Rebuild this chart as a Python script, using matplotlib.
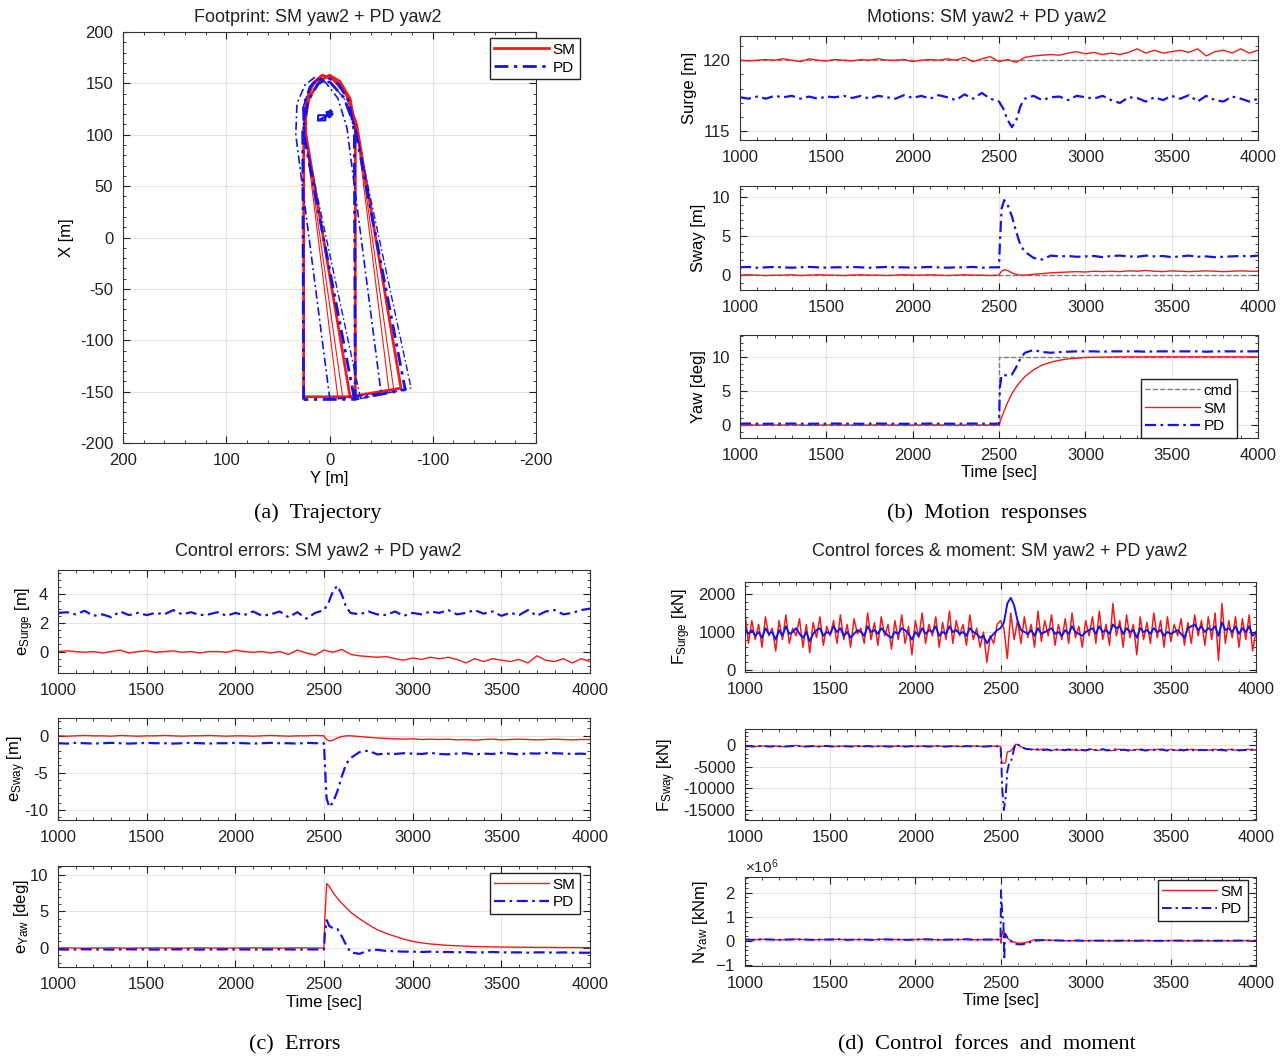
import numpy as np
import matplotlib.pyplot as plt
from matplotlib.transforms import Affine2D

plt.rcParams['font.family'] = ['Liberation Sans', 'DejaVu Sans']
plt.rcParams['axes.unicode_minus'] = False
plt.rcParams['mathtext.default'] = 'regular'

RED = '#f01c1c'
BLUE = '#1414e6'
GRAY = '#7f7f7f'
DD = (0, (5, 2, 1.2, 2))

# ---------------- (a) footprint data ----------------
hull_y = [25, 25, 20, 10, 0, -10, -20, -25, -25, 25]
hull_x = [-155, 105, 135, 152, 158, 152, 135, 105, -155, -155]
pivot_y, pivot_x = 0, 118
sm_psi = [0.0, 7.0, 8.0, 9.5]
sm_dy = [0.0, 0.4, 0.5, 0.5]
sm_dx = [0.0, 0.3, 0.4, 0.5]
pd_psi = [0.2, 7.3, 10.8, 12.0]
pd_dy = [1.0, 9.5, 2.4, 2.2]
pd_dx = [-2.6, -2.0, -2.6, -2.6]
ref_y = [11, 4, 4, 11, 11, 3, -1, -3, 0, 3, -2, 1]
ref_x = [114, 114, 119, 119, 114, 118, 124, 120, 117, 122, 123, 118]

# ---------------- time series data ----------------
t_cmd = [1000, 2500, 4000]
cmd_surge = [120, 120, 120]
cmd_sway = [0, 0, 0]
cmd_yaw = [0, 10, 10]

t50 = np.arange(1000, 4001, 50)
t_pds = list(range(1000, 2501, 50)) + [2525, 2550, 2575, 2600, 2625] + list(range(2650, 4001, 50))
t_tr = list(range(1000, 2501, 50)) + [2505, 2515, 2530, 2550, 2575, 2600, 2625] + list(range(2650, 4001, 50))

sm_surge = [120.0, 119.95, 120.0, 120.05, 120.0, 120.1, 120.0, 119.9, 120.1, 120.0,
            119.95, 120.05, 120.0, 119.95, 120.05, 120.0, 120.1, 120.0, 120.0, 120.05,
            119.9, 120.0, 120.05, 120.0, 120.1, 120.0, 120.2, 119.9, 120.1, 120.25,
            119.9, 120.05, 119.85, 120.2, 120.3, 120.35, 120.4, 120.35, 120.5, 120.6,
            120.45, 120.55, 120.4, 120.5, 120.4, 120.55, 120.8, 120.5, 120.7, 120.5,
            120.6, 120.7, 120.55, 120.8, 120.3, 120.6, 120.7, 120.5, 120.8, 120.5,
            120.7]
pd_surge = [117.4, 117.3, 117.45, 117.3, 117.5, 117.4, 117.5, 117.3, 117.45, 117.3,
            117.45, 117.4, 117.5, 117.35, 117.5, 117.3, 117.5, 117.4, 117.3, 117.55,
            117.35, 117.5, 117.3, 117.55, 117.4, 117.2, 117.6, 117.3, 117.7, 117.3,
            117.1,
            116.6, 115.8, 115.3, 115.8, 116.8,
            117.3, 117.5, 117.2, 117.4, 117.45, 117.2, 117.5, 117.4, 117.3, 117.5,
            117.2, 117.0, 117.4, 117.35, 117.1, 117.4, 117.2, 117.5, 117.3, 117.55,
            117.1, 117.5, 117.2, 117.1, 117.45, 117.3, 117.1, 117.3]

sm_sway = [0.0, 0.05, 0.0, -0.05, 0.0, 0.0, 0.05, -0.05, 0.0, 0.05,
           0.0, 0.0, -0.05, 0.0, 0.05, 0.0, 0.0, -0.05, 0.0, 0.05,
           0.0, 0.0, 0.05, 0.0, -0.05, 0.0, 0.05, 0.0, 0.0, -0.05,
           0.0,
           0.2, 0.5, 0.7, 0.6, 0.3, 0.1, 0.0,
           0.0, 0.1, 0.2, 0.3, 0.35, 0.4, 0.45, 0.4, 0.5, 0.45,
           0.5, 0.45, 0.55, 0.5, 0.6, 0.5, 0.45, 0.55, 0.5, 0.45,
           0.5, 0.55, 0.5, 0.45, 0.5, 0.55, 0.5, 0.5]
pd_sway = [1.0, 1.05, 0.95, 1.0, 1.05, 1.0, 0.95, 1.0, 1.05, 1.0,
           0.95, 1.0, 1.0, 1.05, 1.0, 0.95, 1.0, 1.05, 1.0, 1.0,
           0.95, 1.0, 1.05, 1.0, 0.95, 1.0, 1.0, 1.05, 0.95, 1.0,
           1.0,
           4.0, 8.5, 9.6, 9.0, 7.5, 5.5, 3.8,
           3.0, 2.2, 2.0, 2.5, 2.4, 2.45, 2.35, 2.4, 2.45, 2.3,
           2.45, 2.5, 2.4, 2.35, 2.5, 2.4, 2.45, 2.3, 2.4, 2.5,
           2.35, 2.4, 2.3, 2.35, 2.4, 2.45, 2.4, 2.5]

sm_yaw = [0.0, 0.02, 0.0, -0.02, 0.0, 0.0, 0.02, 0.0, -0.02, 0.0,
          0.0, 0.02, 0.0, 0.0, -0.02, 0.0, 0.02, 0.0, 0.0, -0.02,
          0.0, 0.0, 0.02, 0.0, 0.0, -0.02, 0.0, 0.02, 0.0, 0.0,
          0.0,
          0.4, 1.1, 2.1, 3.3, 4.6, 5.6, 6.4,
          7.1, 8.1, 8.8, 9.2, 9.5, 9.7, 9.8, 9.9, 9.93, 9.96,
          9.98, 10.0, 10.0, 10.0, 10.0, 10.0, 10.0, 10.0, 10.0, 10.0,
          10.0, 10.0, 10.0, 10.0, 10.0, 10.0, 10.0, 10.0]
pd_yaw = [0.2, 0.22, 0.2, 0.18, 0.2, 0.2, 0.22, 0.2, 0.18, 0.2,
          0.2, 0.22, 0.2, 0.2, 0.18, 0.2, 0.22, 0.2, 0.2, 0.18,
          0.2, 0.2, 0.22, 0.2, 0.2, 0.18, 0.2, 0.22, 0.2, 0.2,
          0.2,
          5.5, 7.3, 7.3, 7.3, 7.4, 8.5, 9.8,
          10.6, 11.0, 10.7, 10.6, 10.7, 10.75, 10.8, 10.8, 10.8, 10.75,
          10.8, 10.8, 10.8, 10.8, 10.75, 10.8, 10.8, 10.8, 10.8, 10.8,
          10.8, 10.75, 10.8, 10.8, 10.8, 10.8, 10.8, 10.8]

sm_esurge = [0.0, 0.05, 0.0, -0.05, 0.0, -0.1, 0.0, 0.1, -0.1, 0.0,
             0.05, -0.05, 0.0, 0.05, -0.05, 0.0, -0.1, 0.0, 0.0, -0.05,
             0.1, 0.0, -0.05, 0.0, -0.1, 0.0, -0.2, 0.1, -0.1, -0.25,
             0.1, -0.05, 0.15, -0.2, -0.3, -0.35, -0.4, -0.35, -0.5, -0.6,
             -0.45, -0.55, -0.4, -0.5, -0.4, -0.55, -0.8, -0.5, -0.7, -0.5,
             -0.6, -0.7, -0.55, -0.8, -0.3, -0.6, -0.7, -0.5, -0.8, -0.5,
             -0.7]
pd_esurge = [2.7, 2.75, 2.6, 2.85, 2.5, 2.6, 2.4, 2.8, 2.55, 2.7,
             2.55, 2.7, 2.6, 2.9, 2.6, 2.75, 2.55, 2.6, 2.75, 2.5,
             2.7, 2.55, 2.8, 2.5, 2.6, 2.8, 2.4, 2.75, 2.3, 2.7,
             2.9,
             3.4, 4.2, 4.6, 4.0, 3.1,
             2.7, 2.6, 2.8, 2.6, 2.55, 2.8, 2.5, 2.7, 2.6, 2.8,
             2.7, 2.9, 2.6, 2.7, 2.9, 2.65, 2.8, 2.5, 2.7, 2.55,
             2.9, 2.5, 2.8, 2.9, 2.6, 2.7, 2.9, 3.0]

sm_esway = [0.0, -0.05, 0.0, 0.05, 0.0, 0.0, -0.05, 0.05, 0.0, -0.05,
            0.0, 0.0, 0.05, 0.0, -0.05, 0.0, 0.0, 0.05, 0.0, -0.05,
            0.0, 0.0, -0.05, 0.0, 0.05, 0.0, -0.05, 0.0, 0.0, 0.05,
            0.0,
            -0.2, -0.5, -0.7, -0.6, -0.3, -0.1, 0.0,
            0.0, -0.1, -0.2, -0.3, -0.35, -0.4, -0.45, -0.4, -0.5, -0.45,
            -0.5, -0.45, -0.55, -0.5, -0.6, -0.5, -0.45, -0.55, -0.5, -0.45,
            -0.5, -0.55, -0.5, -0.45, -0.5, -0.55, -0.5, -0.5]
pd_esway = [-1.0, -1.05, -0.95, -1.0, -1.05, -1.0, -0.95, -1.0, -1.05, -1.0,
            -0.95, -1.0, -1.0, -1.05, -1.0, -0.95, -1.0, -1.05, -1.0, -1.0,
            -0.95, -1.0, -1.05, -1.0, -0.95, -1.0, -1.0, -1.05, -0.95, -1.0,
            -1.0,
            -4.0, -8.5, -9.6, -9.0, -7.5, -5.5, -3.8,
            -3.0, -2.2, -2.0, -2.5, -2.4, -2.45, -2.35, -2.4, -2.45, -2.3,
            -2.45, -2.5, -2.4, -2.35, -2.5, -2.4, -2.45, -2.3, -2.4, -2.5,
            -2.35, -2.4, -2.3, -2.35, -2.4, -2.45, -2.4, -2.5]

sm_eyaw = [0.0, 0.02, 0.0, -0.02, 0.0, 0.0, 0.02, 0.0, -0.02, 0.0,
           0.0, 0.02, 0.0, 0.0, -0.02, 0.0, 0.02, 0.0, 0.0, -0.02,
           0.0, 0.0, 0.02, 0.0, 0.0, -0.02, 0.0, 0.02, 0.0, 0.0,
           0.0,
           4.0, 8.8, 8.4, 7.6, 6.8, 6.1, 5.5,
           4.9, 4.0, 3.2, 2.5, 2.0, 1.6, 1.2, 0.9, 0.7, 0.55,
           0.45, 0.35, 0.3, 0.25, 0.2, 0.18, 0.15, 0.13, 0.12, 0.1,
           0.1, 0.08, 0.08, 0.07, 0.06, 0.06, 0.05, 0.05]
pd_eyaw = [-0.2, -0.22, -0.2, -0.18, -0.2, -0.2, -0.22, -0.2, -0.18, -0.2,
           -0.2, -0.22, -0.2, -0.2, -0.18, -0.2, -0.22, -0.2, -0.2, -0.18,
           -0.2, -0.2, -0.22, -0.2, -0.2, -0.18, -0.2, -0.22, -0.2, -0.2,
           -0.2,
           2.0, 3.8, 3.0, 2.7, 2.6, 1.6, 0.4,
           -0.6, -0.8, -0.35, -0.25, -0.4, -0.45, -0.5, -0.5, -0.55, -0.5,
           -0.55, -0.55, -0.6, -0.55, -0.6, -0.6, -0.55, -0.6, -0.6, -0.6,
           -0.65, -0.6, -0.6, -0.65, -0.6, -0.65, -0.65, -0.65]

t20 = np.arange(1000, 4001, 20)
sm_fsurge = [1500, 700, 1300, 800, 1200, 600, 1400, 900, 1100, 500,
             1300, 800, 1450, 700, 1100, 900, 1350, 600, 1200, 450,
             1250, 850, 1400, 650, 1150, 900, 1300, 700, 1450, 800,
             1200, 600, 1350, 950, 1100, 700, 1500, 800, 1250, 650,
             1400, 900, 1200, 550, 1300, 800, 1450, 700, 1150, 400,
             1300, 850, 1500, 700, 1200, 900, 1400, 600, 1250, 800,
             1550, 700, 1300, 900, 1200, 650, 1450, 800, 1100, 600,
             1000, 200, 900, 700, 1200, 1300, 1100, 300, 1500, 800,
             1300, 700, 1400, 850, 1200, 600, 1550, 750, 1300, 900,
             1450, 650, 1200, 800, 1350, 700, 1500, 850, 1150, 600,
             1300, 900, 1400, 700, 1550, 800, 1200, 650, 1750, 900,
             1300, 600, 1450, 850, 1200, 400, 1400, 800, 1250, 700,
             1500, 850, 1300, 600, 1400, 750, 1200, 900, 1350, 650,
             1250, 700, 1450, 900, 1300, 650, 1400, 800, 1500, 250,
             1750, 700, 1300, 850, 1400, 600, 1350, 800, 1450, 500,
             1000]
pd_fsurge = [1100, 950, 1050, 900, 1000, 850, 1100, 950, 1000, 800,
             1050, 900, 1150, 950, 1000, 1100, 950, 850, 1000, 750,
             950, 1050, 1100, 900, 1000, 950, 1150, 1000, 1100, 900,
             1000, 850, 950, 1050, 1000, 900, 1150, 1000, 1050, 950,
             1100, 1000, 900, 850, 1000, 950, 1100, 1050, 950, 800,
             1000, 900, 1100, 950, 1050, 1000, 1150, 900, 1000, 950,
             1150, 1000, 1050, 950, 1000, 900, 1100, 1000, 950, 850,
             900, 700, 850, 950, 1050, 1100, 1250, 1750, 1900, 1700,
             1300, 1050, 1000, 950, 1050, 900, 1100, 950, 1000, 1050,
             1100, 950, 1000, 900, 1050, 950, 1150, 1000, 950, 900,
             1000, 1050, 1100, 950, 1150, 1000, 1050, 950, 1200, 1100,
             1150, 950, 1100, 1000, 1050, 850, 1100, 1000, 1050, 950,
             1100, 1000, 1050, 900, 1000, 950, 1000, 1050, 950, 850,
             1100, 1150, 1200, 1050, 1150, 1000, 1100, 1050, 1150, 900,
             1250, 1050, 1100, 1000, 1150, 950, 1100, 1000, 1150, 900,
             1000]

t_fsway = list(range(1000, 2501, 25)) + [2505, 2510, 2520, 2530, 2540, 2550, 2560,
                                          2570, 2580, 2590, 2600, 2625, 2650, 2675] + list(range(2700, 4001, 25))
fsway_pre = [-300, -250, -350, -300, -200, -300, -350, -250, -300, -400,
             -300, -250, -100, -300, -350, -300, -250, -350, -300, -200,
             -300, -350, -300, -250, -300, -350, -200, -300, -300, -250,
             -350, -300, -250, -300, -350, -300, -200, -300, -350, -250,
             -300, -300, -250, -350, -300, -200, -300, -350, -300, -250,
             -300, -350, -250, -300, -200, -300, -350, -300, -250, -300,
             -300]
sm_fsway_jump = [-3500, -4100, -4200, -4100, -1600, -1500, -1400, -900, -300, 200, 100, -500, -900, -1000]
pd_fsway_jump = [-4000, -10000, -15000, -12000, -6000, -4300, -4000, -2500, -800, 300, 200, -500, -900, -1000]
sm_fsway_post = [-1000, -1200, -900, -1100, -1300, -1000, -1150, -1250, -950, -1100,
                 -1300, -1050, -1200, -900, -1150, -1250, -1000, -1100, -1300, -1150,
                 -950, -1200, -1100, -1250, -1000, -1150, -1300, -1050, -1200, -950,
                 -1100, -1250, -1000, -1150, -1300, -1100, -1200, -950, -1150, -1250,
                 -1050, -1200, -1000, -1100, -1300, -1150, -1000, -1200, -1100, -1250,
                 -950, -1150, -1200]
pd_fsway_post = [-1100, -900, -1200, -1000, -1250, -1100, -950, -1200, -1050, -1300,
                 -1000, -1150, -1250, -1000, -1100, -1200, -950, -1250, -1150, -1000,
                 -1200, -1050, -1300, -1100, -1150, -1000, -1250, -1150, -1050, -1200,
                 -1000, -1300, -1100, -1200, -1050, -1250, -1000, -1150, -1300, -1100,
                 -1200, -1000, -1250, -1150, -1050, -1300, -1100, -1000, -1250, -1150,
                 -1200, -1050, -1100]
sm_fsway = fsway_pre + sm_fsway_jump + sm_fsway_post
pd_fsway = fsway_pre + pd_fsway_jump + pd_fsway_post

t_nyaw = list(range(1000, 2501, 50)) + [2503, 2507, 2512, 2517, 2522, 2527, 2535,
                                         2550, 2575, 2600, 2625] + list(range(2650, 4001, 50))
nyaw_pre = [5e4, 4e4, 6e4, 5e4, 4e4, 5e4, 6e4, 5e4, 4e4, 5e4,
            5e4, 6e4, 4e4, 5e4, 5e4, 4e4, 6e4, 5e4, 5e4, 4e4,
            5e4, 6e4, 5e4, 4e4, 5e4, 5e4, 6e4, 4e4, 5e4, 5e4,
            5e4]
sm_nyaw_jump = [-1e5, 3e5, 4e5, 2e5, 3.5e5, 2.5e5, 1.5e5, 5e4, -5e4, -1e5, -1e5]
pd_nyaw_jump = [2.1e6, 1.5e6, 1.0e6, 9e5, -8e5, 3e5, 2e5, 5e4, -1e5, -1.5e5, -1.5e5]
sm_nyaw_post = [-8e4, 5e4, 3e4, 2e4, 1e4, 0, 1e4, 0, 1e4, 0,
                0, 1e4, 0, 0, 1e4, 0, 0, 1e4, 0, 0,
                1e4, 0, 0, 1e4, 0, 0, 1e4, 0]
pd_nyaw_post = [-1.2e5, 0, 3e4, 2e4, 1e4, 0, 1e4, 0, 0, 1e4,
                0, 0, 1e4, 0, 1e4, 0, 0, 0, 1e4, 0,
                0, 1e4, 0, 0, 0, 1e4, 0, 0]
sm_nyaw = nyaw_pre + sm_nyaw_jump + sm_nyaw_post
pd_nyaw = nyaw_pre + pd_nyaw_jump + pd_nyaw_post

W, H = 1285, 1059
fig = plt.figure(figsize=(W / 100, H / 100), dpi=100)


def add_ax(x0, y0, x1, y1):
    return fig.add_axes([x0 / W, 1 - y1 / H, (x1 - x0) / W, (y1 - y0) / H])


def style(ax):
    ax.grid(True, color='#e4e4e4', lw=0.8)
    ax.set_axisbelow(True)
    ax.minorticks_on()
    ax.tick_params(which='both', direction='in', top=True, right=True, labelsize=12, colors='#222222')
    ax.tick_params(which='major', length=5, pad=7)
    ax.tick_params(which='minor', length=2.5)
    for s in ax.spines.values():
        s.set_linewidth(0.8)
        s.set_color('#333333')


def time_ax(ax):
    style(ax)
    ax.set_xlim(1000, 4000)
    ax.set_xticks(range(1000, 4001, 500))


leg_kw = dict(fontsize=11, fancybox=False, framealpha=1, edgecolor='#222222',
              handlelength=3.6, handletextpad=0.2, labelspacing=0.25, borderpad=0.3,
              borderaxespad=0)

# ---------------- (a) ----------------
axa = add_ax(123, 32, 536, 443)
style(axa)
for k in range(len(sm_psi)):
    tr = Affine2D().rotate_deg_around(pivot_y, pivot_x, -sm_psi[k]).translate(sm_dy[k], sm_dx[k]) + axa.transData
    axa.plot(hull_y, hull_x, color=RED, lw=[2.0, 0.8, 0.8, 2.0][k], transform=tr,
             label='SM' if k == 0 else None)
for k in range(len(pd_psi)):
    tr = Affine2D().rotate_deg_around(pivot_y, pivot_x, -pd_psi[k]).translate(pd_dy[k], pd_dx[k]) + axa.transData
    axa.plot(hull_y, hull_x, color=BLUE, lw=[2.0, 1.2, 2.0, 1.0][k], ls=DD, transform=tr,
             label='PD' if k == 0 else None)
axa.plot(ref_y, ref_x, color=BLUE, lw=1.5)
axa.set_xlim(200, -200)
axa.set_ylim(-200, 200)
axa.set_xticks([200, 100, 0, -100, -200])
axa.set_yticks(range(-200, 201, 50))
axa.set_xlabel('Y [m]', fontsize=12, labelpad=2)
axa.set_ylabel('X [m]', fontsize=12)
axa.legend(loc='upper right', bbox_to_anchor=(1.106, 0.985), **leg_kw)

# ---------------- (b) ----------------
b1 = add_ax(740, 36, 1258, 140)
time_ax(b1)
b1.plot(t_cmd, cmd_surge, color=GRAY, ls='--', lw=1.0)
b1.plot(t50, sm_surge, color=RED, lw=1.0)
b1.plot(t_pds, pd_surge, color=BLUE, lw=1.6, ls=DD)
b1.set_ylim(114.4, 121.7)
b1.set_yticks([115, 120])
b1.set_ylabel('Surge [m]', fontsize=12)

b2 = add_ax(740, 186, 1258, 290)
time_ax(b2)
b2.plot(t_cmd, cmd_sway, color=GRAY, ls='--', lw=1.0)
b2.plot(t_tr, sm_sway, color=RED, lw=1.0)
b2.plot(t_tr, pd_sway, color=BLUE, lw=1.6, ls=DD)
b2.set_ylim(-1.9, 11.4)
b2.set_yticks([0, 5, 10])
b2.set_ylabel('Sway [m]', fontsize=12)

b3 = add_ax(740, 335, 1258, 438)
time_ax(b3)
b3.plot(t_cmd, cmd_yaw, color=GRAY, ls='--', lw=1.0, drawstyle='steps-post', label='cmd')
b3.plot(t_tr, sm_yaw, color=RED, lw=1.0, label='SM')
b3.plot(t_tr, pd_yaw, color=BLUE, lw=1.6, ls=DD, label='PD')
b3.set_ylim(-1.9, 13.2)
b3.set_yticks([0, 5, 10])
b3.set_ylabel('Yaw [deg]', fontsize=12)
b3.set_xlabel('Time [sec]', fontsize=12, labelpad=2)
b3.legend(loc='lower right', bbox_to_anchor=(0.959, 0.0), **leg_kw)

# ---------------- (c) ----------------
c1 = add_ax(58, 570, 590, 673)
time_ax(c1)
c1.plot(t50, sm_esurge, color=RED, lw=1.0)
c1.plot(t_pds, pd_esurge, color=BLUE, lw=1.6, ls=DD)
c1.set_ylim(-1.5, 5.7)
c1.set_yticks([0, 2, 4])
c1.set_ylabel('e$_{Surge}$ [m]', fontsize=12)
c1.yaxis.set_label_coords(-0.042, 0.5)

c2 = add_ax(58, 718, 590, 820)
time_ax(c2)
c2.plot(t_tr, sm_esway, color=RED, lw=1.0)
c2.plot(t_tr, pd_esway, color=BLUE, lw=1.6, ls=DD)
c2.set_ylim(-11.35, 2.4)
c2.set_yticks([-10, -5, 0])
c2.set_ylabel('e$_{Sway}$ [m]', fontsize=12)
c2.yaxis.set_label_coords(-0.057, 0.5)

c3 = add_ax(58, 866, 590, 967)
time_ax(c3)
c3.plot(t_tr, sm_eyaw, color=RED, lw=1.0, label='SM')
c3.plot(t_tr, pd_eyaw, color=BLUE, lw=1.6, ls=DD, label='PD')
c3.set_ylim(-2.6, 11.2)
c3.set_yticks([0, 5, 10])
c3.set_ylabel('e$_{Yaw}$ [deg]', fontsize=12)
c3.yaxis.set_label_coords(-0.05, 0.5)
c3.set_xlabel('Time [sec]', fontsize=12, labelpad=2)
c3.legend(loc='upper right', bbox_to_anchor=(0.981, 0.93), **leg_kw)

# ---------------- (d) ----------------
d1 = add_ax(745, 582, 1256, 672)
time_ax(d1)
d1.plot(t20, sm_fsurge, color=RED, lw=1.1)
d1.plot(t20, pd_fsurge, color=BLUE, lw=1.4)
d1.set_ylim(-53, 2316)
d1.set_yticks([0, 1000, 2000])
d1.set_ylabel('F$_{Surge}$ [kN]', fontsize=12)

d2 = add_ax(745, 729, 1256, 820)
time_ax(d2)
d2.plot(t_fsway, sm_fsway, color=RED, lw=1.0)
d2.plot(t_fsway, pd_fsway, color=BLUE, lw=1.4, ls=DD)
d2.set_ylim(-17300, 3700)
d2.set_yticks([-15000, -10000, -5000, 0])
d2.set_ylabel('F$_{Sway}$ [kN]', fontsize=12)

d3 = add_ax(745, 877, 1256, 966)
time_ax(d3)
d3.plot(t_nyaw, sm_nyaw, color=RED, lw=1.0, label='SM')
d3.plot(t_nyaw, pd_nyaw, color=BLUE, lw=1.4, ls=DD, label='PD')
d3.set_ylim(-1.05e6, 2.65e6)
d3.set_yticks([-1e6, 0, 1e6, 2e6])
d3.ticklabel_format(axis='y', style='sci', scilimits=(6, 6), useMathText=True)
d3.yaxis.get_offset_text().set_fontsize(11)
d3.set_ylabel('N$_{Yaw}$ [kNm]', fontsize=12)
d3.set_xlabel('Time [sec]', fontsize=12, labelpad=2)
d3.legend(loc='upper right', bbox_to_anchor=(0.984, 0.966), **leg_kw)

# ---------------- titles and captions ----------------
title_kw = dict(ha='center', va='center', fontsize=13, color='#222222')
fig.text(318 / W, 1 - 17 / H, 'Footprint: SM yaw2 + PD yaw2', **title_kw)
fig.text(987 / W, 1 - 17 / H, 'Motions: SM yaw2 + PD yaw2', **title_kw)
fig.text(318 / W, 1 - 551 / H, 'Control errors: SM yaw2 + PD yaw2', **title_kw)
fig.text(1000 / W, 1 - 551 / H, 'Control forces & moment: SM yaw2 + PD yaw2', **title_kw)

cap_kw = dict(ha='center', va='center', fontsize=16, family=['Liberation Serif', 'DejaVu Serif'])
fig.text(318 / W, 1 - 513 / H, '(a)  Trajectory', **cap_kw)
fig.text(987 / W, 1 - 513 / H, '(b)  Motion  responses', **cap_kw)
fig.text(295 / W, 1 - 1045 / H, '(c)  Errors', **cap_kw)
fig.text(987 / W, 1 - 1045 / H, '(d)  Control  forces  and  moment', **cap_kw)

fig.savefig('out.png', dpi=100)
